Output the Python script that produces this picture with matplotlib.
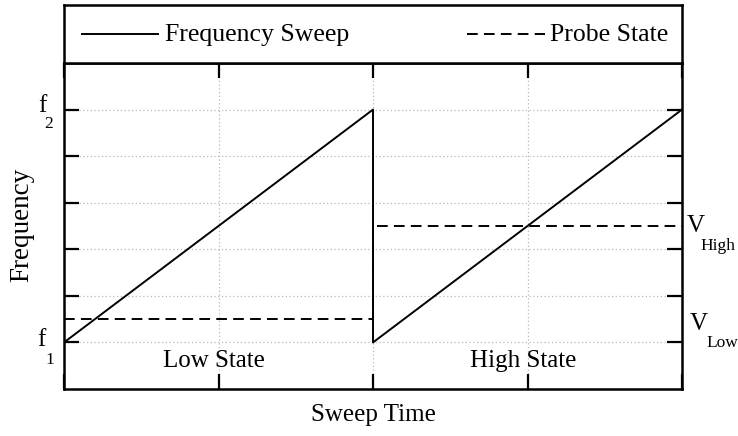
import matplotlib
matplotlib.use("Agg")
import matplotlib.pyplot as plt

plt.rcParams['font.family'] = ['Liberation Serif', 'DejaVu Serif']

# Data
sweep_t = [0.0, 0.2, 0.4, 0.6, 0.8, 1.0, 1.2, 1.4, 1.6, 1.8, 2.0,
           2.0, 2.2, 2.4, 2.6, 2.8, 3.0, 3.2, 3.4, 3.6, 3.8, 4.0]
sweep_f = [1.0, 1.5, 2.0, 2.5, 3.0, 3.5, 4.0, 4.5, 5.0, 5.5, 6.0,
           1.0, 1.5, 2.0, 2.5, 3.0, 3.5, 4.0, 4.5, 5.0, 5.5, 6.0]
probe_t = [0.0, 2.0, 2.0, 4.0]
probe_v = [1.5, 1.5, 3.5, 3.5]
x_ticks = [0, 1, 2, 3, 4]
y_ticks = [1, 2, 3, 4, 5, 6]
state_labels = ["Low State", "High State"]
state_x = [0.97, 2.97]
legend_labels = ["Frequency Sweep", "Probe State"]

W, H = 738, 436
fig = plt.figure(figsize=(W / 100, H / 100), dpi=100)

L, R = 64, 682
ax = fig.add_axes([L / W, (H - 389) / H, (R - L) / W, (389 - 63) / H])
lax = fig.add_axes([L / W, (H - 63) / H, (R - L) / W, (63 - 5) / H])

lw_sp = 1.8
lw_line = 1.4
dash = (5.5, 3.2)
ax.plot(sweep_t, sweep_f, color='black', lw=lw_line, zorder=3)
ax.plot(probe_t, probe_v, color='black', lw=lw_line, dashes=dash, zorder=3)

ax.set_xlim(0, 4)
ax.set_ylim(0, 7)
ax.set_xticks(x_ticks)
ax.set_yticks(y_ticks)
ax.grid(True, color='#b8b8b8', linestyle=(0, (1, 2)), linewidth=0.9)
ax.tick_params(direction='in', length=10.5, width=1.6, top=True, right=True,
               labelbottom=False, labelleft=False, color='black')
for s in ax.spines.values():
    s.set_linewidth(lw_sp)

# tick labels
fs = 18
sub = 12.5
ax.text(-0.118, 1.05, "f", fontsize=fs, ha='right', va='center')
ax.text(-0.094, 0.62, "1", fontsize=sub, ha='center', va='center')
ax.text(-0.115, 6.08, "f", fontsize=fs, ha='right', va='center')
ax.text(-0.1, 5.7, "2", fontsize=sub, ha='center', va='center')

ax.text(4.03, probe_v[2], "V", fontsize=fs, ha='left', va='center')
ax.text(4.12, probe_v[2] - 0.42, "High", fontsize=sub, ha='left', va='center')
ax.text(4.05, 1.4, "V", fontsize=fs, ha='left', va='center')
ax.text(4.16, 0.98, "Low", fontsize=sub, ha='left', va='center')

for lab, xx in zip(state_labels, state_x):
    ax.text(xx, 0.6, lab, fontsize=fs, ha='center', va='center')

ax.text(2.0, -0.55, "Sweep Time", fontsize=fs, ha='center', va='center')
fig.text(22 / W, 1 - 225 / H, "Frequency", fontsize=19.5, rotation=90,
         ha='center', va='center')

# legend box
lax.set_xlim(L, R)
lax.set_ylim(63, 5)
lax.set_xticks([])
lax.set_yticks([])
for s in lax.spines.values():
    s.set_linewidth(lw_sp)
lax.plot([82, 158], [34, 34], color='black', lw=lw_line)
lax.text(165, 35, legend_labels[0], fontsize=18.5, ha='left', va='center')
lax.plot([467, 545], [34, 34], color='black', lw=lw_line, dashes=dash)
lax.text(550, 35, legend_labels[1], fontsize=18.5, ha='left', va='center')

fig.savefig("out.png", dpi=100)
